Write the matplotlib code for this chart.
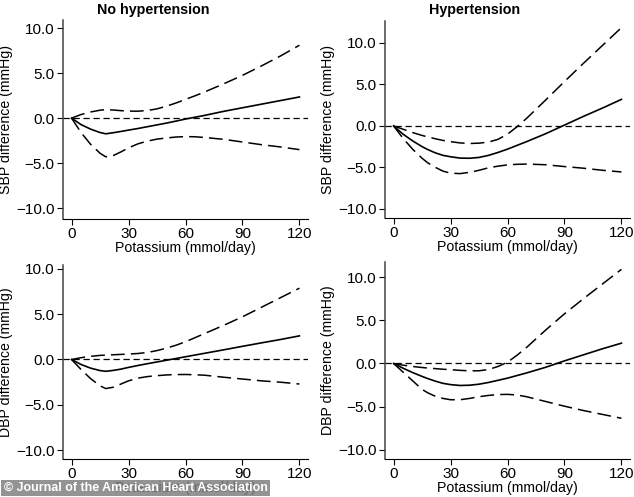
import matplotlib
matplotlib.use("Agg")
import matplotlib.pyplot as plt
from matplotlib import rcParams
rcParams["font.family"]=["Liberation Sans","DejaVu Sans"]
rcParams["font.size"]=10

# potassium grid (mmol/day)
k=[0,5,10,15,18,22,26,30,35,40,45,50,55,60,65,70,80,90,100,110,120]

# SBP, no hypertension
sbp_nh=[0,-0.72,-1.22,-1.6,-1.74,-1.62,-1.48,-1.33,-1.15,-0.95,-0.75,-0.55,-0.33,-0.1,0.1,0.3,0.75,1.15,1.55,1.95,2.35]
sbp_nh_hi=[0,0.4,0.68,0.88,0.94,0.9,0.83,0.78,0.77,0.85,1.03,1.33,1.68,2.08,2.48,2.9,3.8,4.75,5.8,6.9,8.1]
sbp_nh_lo=[0,-1.6,-2.9,-3.9,-4.3,-4.15,-3.75,-3.3,-2.85,-2.55,-2.33,-2.2,-2.1,-2.05,-2.07,-2.15,-2.35,-2.65,-2.95,-3.2,-3.5]
# SBP, hypertension
sbp_h=[0,-1.0,-1.8,-2.5,-2.85,-3.25,-3.55,-3.72,-3.88,-3.9,-3.8,-3.55,-3.2,-2.8,-2.35,-1.9,-0.95,0.1,1.15,2.15,3.2]
sbp_h_hi=[0,-0.4,-0.8,-1.15,-1.33,-1.55,-1.75,-1.9,-2.05,-2.12,-2.08,-1.95,-1.62,-1.0,-0.1,0.9,3.1,5.35,7.55,9.7,11.85]
sbp_h_lo=[0,-1.5,-2.8,-3.9,-4.45,-5.0,-5.45,-5.7,-5.75,-5.6,-5.35,-5.05,-4.85,-4.7,-4.63,-4.6,-4.68,-4.9,-5.1,-5.35,-5.55]
# DBP, no hypertension
dbp_nh=[0,-0.55,-0.95,-1.22,-1.3,-1.2,-1.06,-0.87,-0.66,-0.46,-0.27,-0.08,0.11,0.3,0.49,0.68,1.06,1.45,1.83,2.2,2.6]
dbp_nh_hi=[0,0.2,0.35,0.45,0.48,0.52,0.56,0.6,0.66,0.78,0.98,1.25,1.57,1.95,2.4,2.85,3.75,4.7,5.75,6.8,7.85]
dbp_nh_lo=[0,-1.1,-2.1,-2.9,-3.2,-3.05,-2.7,-2.35,-2.05,-1.88,-1.78,-1.7,-1.66,-1.65,-1.68,-1.73,-1.95,-2.15,-2.35,-2.5,-2.7]
# DBP, hypertension
dbp_h=[0,-0.55,-1.05,-1.5,-1.75,-2.05,-2.3,-2.45,-2.55,-2.52,-2.4,-2.2,-1.95,-1.7,-1.4,-1.1,-0.45,0.3,1.0,1.7,2.35]
dbp_h_hi=[0,-0.2,-0.35,-0.47,-0.53,-0.6,-0.67,-0.72,-0.8,-0.85,-0.85,-0.7,-0.35,0.15,0.95,1.85,3.85,5.75,7.5,9.2,10.9]
dbp_h_lo=[0,-1.0,-2.0,-3.0,-3.4,-3.8,-4.05,-4.2,-4.2,-4.05,-3.85,-3.7,-3.6,-3.58,-3.65,-3.85,-4.4,-4.95,-5.45,-5.9,-6.35]

xticks=[0,30,60,90,120]
yticks=[-10,-5,0,5,10]

fig=plt.figure(figsize=(6.34,4.97),dpi=100)
panels=[
    ([0.0994,0.5594,0.3864,0.4004],sbp_nh,sbp_nh_hi,sbp_nh_lo,"SBP difference (mmHg)",(-11.2,10.9)),
    ([0.6073,0.5614,0.3864,0.3964],sbp_h,sbp_h_hi,sbp_h_lo,"SBP difference (mmHg)",(-11.1,12.65)),
    ([0.0994,0.0765,0.3864,0.3903],dbp_nh,dbp_nh_hi,dbp_nh_lo,"DBP difference (mmHg)",(-10.95,10.4)),
    ([0.6073,0.0765,0.3864,0.3964],dbp_h,dbp_h_hi,dbp_h_lo,"DBP difference (mmHg)",(-11.06,11.75)),
]
for pos,est,hi,lo,ylab,ylim in panels:
    ax=fig.add_axes(pos)
    ax.axhline(0,color="black",lw=0.9,ls=(0,(5,3)))
    ax.plot(k,hi,color="black",lw=1.1,ls=(0,(9,4)))
    ax.plot(k,lo,color="black",lw=1.1,ls=(0,(9,4)))
    ax.plot(k,est,color="black",lw=1.2)
    ax.set_xlim(-4.5,124.5)
    ax.set_ylim(*ylim)
    ax.set_xticks(xticks)
    ax.set_yticks(yticks)
    ax.set_yticklabels(["%.1f"%v if v>=0 else "\u2212%.1f"%(-v) for v in yticks])
    for s in ["top","right"]:
        ax.spines[s].set_visible(False)
    ax.spines["left"].set_color("#444444")
    ax.spines["left"].set_linewidth(1.1)
    ax.spines["bottom"].set_color("black")
    ax.tick_params(direction="out",length=4,width=0.8,labelsize=11,pad=2)
    ax.set_xlabel("Potassium (mmol/day)",fontsize=10.2,labelpad=0)
    ax.set_ylabel(ylab,fontsize=10.2)
    ax.yaxis.set_label_coords(-0.205,0.5)

fig.text(153/634,0.994,"No hypertension",ha="center",va="top",fontweight="bold",fontsize=10.3)
fig.text(475/634,0.994,"Hypertension",ha="center",va="top",fontweight="bold",fontsize=10.3)

# watermark
fig.text(0.006,0.006,"\u00a9 Journal of the American Heart Association",color="white",
         fontweight="bold",fontsize=8.9,ha="left",va="bottom",
         bbox=dict(boxstyle="square,pad=0.2",fc="#808080",ec="none",alpha=0.85))

fig.savefig("out.png",dpi=100)
